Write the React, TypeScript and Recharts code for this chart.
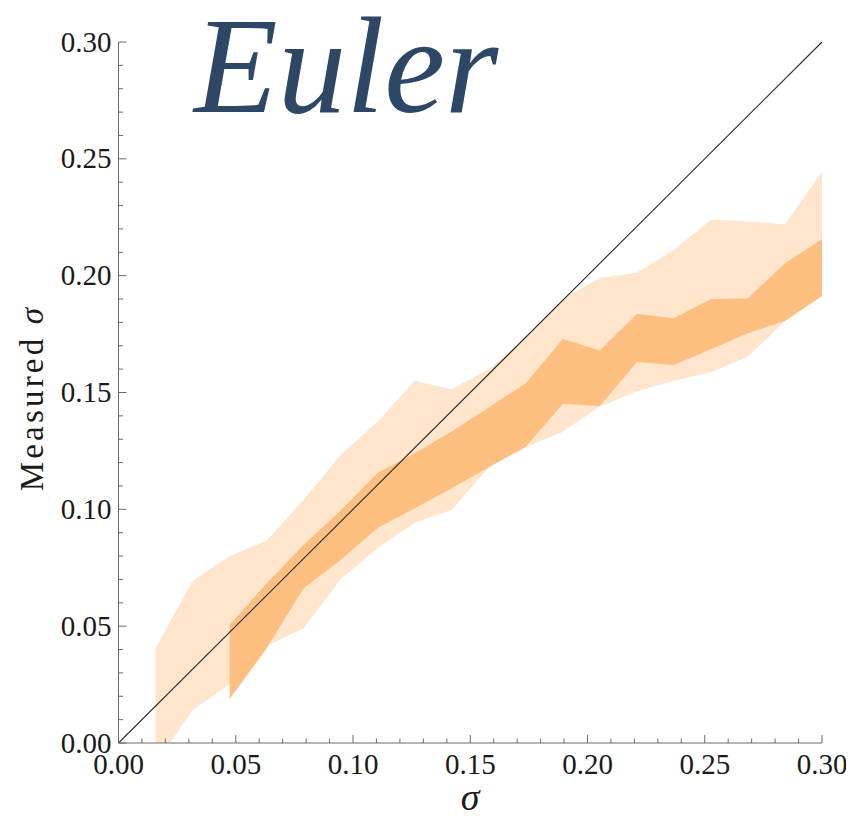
import { ComposedChart, Area, XAxis, YAxis, ReferenceLine } from 'recharts'

// sigma grid (true sigma)
const sigmaValues = [0.0158, 0.0316, 0.0474, 0.0632, 0.0789, 0.0947, 0.1105, 0.1263, 0.1421, 0.1579,
  0.1737, 0.1895, 0.2053, 0.2211, 0.2368, 0.2526, 0.2684, 0.2842, 0.3]

// outer (light) band
const outerLow = [-0.009, 0.0141, 0.0251, 0.0415, 0.0491, 0.0701, 0.0834, 0.0943, 0.0997, 0.118,
  0.1266, 0.1332, 0.144, 0.1504, 0.155, 0.1587, 0.1653, 0.1806, 0.1913]
const outerHigh = [0.0405, 0.0693, 0.08, 0.0866, 0.104, 0.1233, 0.1375, 0.155, 0.1514, 0.16,
  0.1734, 0.19, 0.199, 0.2013, 0.211, 0.2239, 0.2232, 0.222, 0.2445]

// inner (dark) band, starts at the third point
const innerLow = [null, null, 0.0188, 0.0405, 0.0662, 0.0783, 0.092, 0.1005, 0.109, 0.118,
  0.1268, 0.1452, 0.1442, 0.163, 0.1618, 0.1685, 0.1754, 0.1806, 0.1913]
const innerHigh = [null, null, 0.0505, 0.0684, 0.0847, 0.0995, 0.1155, 0.124, 0.1333, 0.1436,
  0.154, 0.1729, 0.168, 0.1836, 0.1818, 0.1899, 0.1903, 0.2053, 0.2156]

const diagonal = [0, 0.3]

const tickValues = [0, 0.01, 0.02, 0.03, 0.04, 0.05, 0.06, 0.07, 0.08, 0.09, 0.1, 0.11, 0.12, 0.13, 0.14, 0.15,
  0.16, 0.17, 0.18, 0.19, 0.2, 0.21, 0.22, 0.23, 0.24, 0.25, 0.26, 0.27, 0.28, 0.29, 0.3]
const majorTicks = [0, 0.05, 0.1, 0.15, 0.2, 0.25, 0.3]

const data = sigmaValues.map((s, i) => ({
  sigma: s,
  outer: [outerLow[i], outerHigh[i]],
  inner: innerLow[i] == null ? null : [innerLow[i], innerHigh[i]],
}))

const axisColor = '#6a6a6a'
const serifStyle = { fontFamily: '"Liberation Serif", "FreeSerif", serif' }

const isMajor = (v: number) => majorTicks.some(m => Math.abs(m - v) < 1e-9)

const XTick = (props: any) => {
  const { x, y, payload } = props
  const major = isMajor(payload.value)
  return (
    <g>
      <line x1={x} x2={x} y1={y} y2={y - (major ? 8 : 4.5)} stroke={axisColor} strokeWidth={1} />
      {major && (
        <text x={x} y={y + 31} textAnchor="middle" style={serifStyle} fontSize={29} fill="#1a1a1a">
          {payload.value.toFixed(2)}
        </text>
      )}
    </g>
  )
}

const YTick = (props: any) => {
  const { x, y, payload } = props
  const major = isMajor(payload.value)
  return (
    <g>
      <line x1={x} x2={x + (major ? 8 : 4.5)} y1={y} y2={y} stroke={axisColor} strokeWidth={1} />
      {major && (
        <text x={x - 7} y={y + 9.6} textAnchor="end" style={serifStyle} fontSize={29} fill="#1a1a1a">
          {payload.value.toFixed(2)}
        </text>
      )}
    </g>
  )
}

export default function App() {
  return (
    <div style={{ position: 'relative', width: 846, height: 812 }}>
      <ComposedChart width={846} height={812} data={data}
        margin={{ top: 34, right: 32, left: 0, bottom: 0 }}>
        <XAxis dataKey="sigma" type="number" domain={[0, 0.3]} allowDataOverflow
          ticks={tickValues} interval={0} tickSize={0} tickMargin={0} tickLine={false}
          tick={<XTick />} height={77} axisLine={{ stroke: axisColor, strokeWidth: 1 }} />
        <YAxis type="number" domain={[0, 0.3]} allowDataOverflow
          ticks={tickValues} interval={0} tickSize={0} tickMargin={0} tickLine={false}
          tick={<YTick />} width={110.5} axisLine={{ stroke: axisColor, strokeWidth: 1 }} />
        <Area type="linear" dataKey="outer" stroke="none" fill="#ffe5cc" fillOpacity={1}
          dot={false} activeDot={false} isAnimationActive={false} />
        <Area type="linear" dataKey="inner" stroke="none" fill="#fdbf80" fillOpacity={1}
          dot={false} activeDot={false} isAnimationActive={false} />
        <ReferenceLine segment={[{ x: diagonal[0], y: diagonal[0] }, { x: diagonal[1], y: diagonal[1] }]}
          stroke="#2b2b2b" strokeWidth={1.1} />
      </ComposedChart>
      <svg width={846} height={812} style={{ position: 'absolute', left: 0, top: 0, pointerEvents: 'none', overflow: 'visible' }}>
        <text x={186} y={104} style={serifStyle} fontStyle="italic" fontSize={137} fill="#2e4766">Euler</text>
        <text transform="translate(35,390) rotate(-90)" textAnchor="middle" style={serifStyle}
          fontSize={33} letterSpacing={3.2} fill="#1a1a1a">
          Measured <tspan fontStyle="italic">σ</tspan>
        </text>
        <text x={462} y={802} textAnchor="middle" style={serifStyle} fontStyle="italic" fontSize={38} fill="#1a1a1a">σ</text>
      </svg>
    </div>
  )
}
